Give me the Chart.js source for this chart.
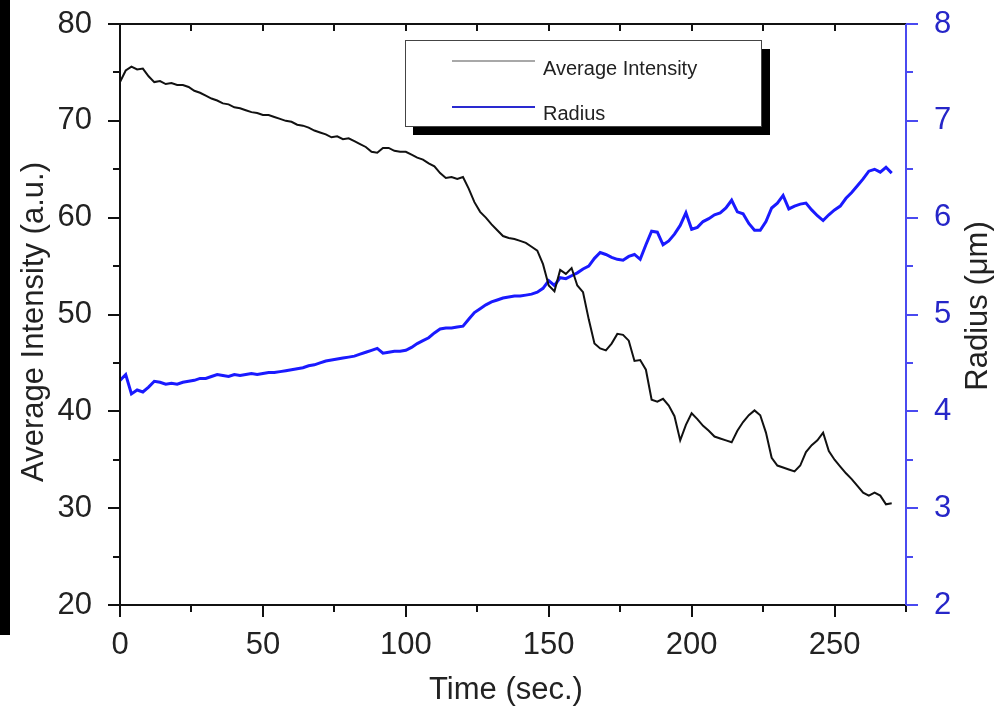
<!DOCTYPE html>
<html>
<head>
<meta charset="utf-8">
<script src="https://cdn.jsdelivr.net/npm/chart.js@4.4.0/dist/chart.umd.min.js"></script>
<style>
  html, body { margin: 0; padding: 0; background: #fff; }
  #wrap { width: 1006px; height: 713px; position: relative; }
</style>
</head>
<body>
<div id="wrap"><canvas id="myChart" width="1006" height="713"></canvas></div>
<script>
// time (sec.)
const times = [
  0, 2, 4, 6, 8, 10, 12, 14, 16, 18, 20, 22, 24, 26, 28, 30, 32, 34, 36, 38,
  40, 42, 44, 46, 48, 50, 52, 54, 56, 58, 60, 62, 64, 66, 68, 70, 72, 74, 76, 78,
  80, 82, 84, 86, 88, 90, 92, 94, 96, 98, 100, 102, 104, 106, 108, 110, 112, 114, 116, 118,
  120, 122, 124, 126, 128, 130, 132, 134, 136, 138, 140, 142, 144, 146, 148, 150, 152, 154, 156, 158,
  160, 162, 164, 166, 168, 170, 172, 174, 176, 178, 180, 182, 184, 186, 188, 190, 192, 194, 196, 198,
  200, 202, 204, 206, 208, 210, 212, 214, 216, 218, 220, 222, 224, 226, 228, 230, 232, 234, 236, 238,
  240, 242, 244, 246, 248, 250, 252, 254, 256, 258, 260, 262, 264, 266, 268, 270
];

// Average Intensity (a.u.)
const intensity = [
  74.0, 75.2, 75.6, 75.3, 75.4, 74.6, 74.0, 74.1, 73.8, 73.9, 73.7, 73.7, 73.5, 73.1, 72.9, 72.6, 72.3, 72.1, 71.8, 71.7,
  71.4, 71.3, 71.1, 70.9, 70.8, 70.6, 70.6, 70.4, 70.2, 70.0, 69.9, 69.6, 69.5, 69.3, 69.0, 68.8, 68.6, 68.3, 68.4, 68.1,
  68.2, 67.9, 67.6, 67.3, 66.8, 66.7, 67.2, 67.2, 66.9, 66.8, 66.8, 66.5, 66.2, 66.0, 65.6, 65.3, 64.6, 64.1, 64.2, 64.0,
  64.2, 63.0, 61.6, 60.6, 60.0, 59.3, 58.7, 58.1, 57.9, 57.8, 57.6, 57.4, 57.0, 56.6, 55.2, 53.0, 52.4, 54.6, 54.2, 54.8,
  53.0, 52.3, 49.5, 47.0, 46.5, 46.3, 47.0, 48.0, 47.9, 47.3, 45.2, 45.3, 44.3, 41.2, 41.0, 41.3, 40.6, 39.5, 37.0, 38.6,
  39.8, 39.2, 38.5, 38.0, 37.4, 37.2, 37.0, 36.8, 38.0, 38.9, 39.6, 40.1, 39.6, 37.8, 35.2, 34.4, 34.2, 34.0, 33.8, 34.4,
  35.8, 36.5, 37.0, 37.8, 35.9, 35.0, 34.3, 33.6, 33.0, 32.3, 31.6, 31.3, 31.6, 31.3, 30.4, 30.5
];

// Radius (um)
const radius = [
  4.32, 4.38, 4.18, 4.22, 4.20, 4.25, 4.31, 4.30, 4.28, 4.29, 4.28, 4.30, 4.31, 4.32, 4.34, 4.34, 4.36, 4.38, 4.37, 4.36,
  4.38, 4.37, 4.38, 4.39, 4.38, 4.39, 4.40, 4.40, 4.41, 4.42, 4.43, 4.44, 4.45, 4.47, 4.48, 4.50, 4.52, 4.53, 4.54, 4.55,
  4.56, 4.57, 4.59, 4.61, 4.63, 4.65, 4.60, 4.61, 4.62, 4.62, 4.63, 4.66, 4.70, 4.73, 4.76, 4.81, 4.85, 4.86, 4.86, 4.87,
  4.88, 4.95, 5.02, 5.06, 5.10, 5.13, 5.15, 5.17, 5.18, 5.19, 5.19, 5.20, 5.21, 5.23, 5.27, 5.35, 5.30, 5.38, 5.37, 5.40,
  5.43, 5.47, 5.50, 5.58, 5.64, 5.62, 5.59, 5.57, 5.56, 5.60, 5.62, 5.57, 5.72, 5.86, 5.85, 5.72, 5.76, 5.83, 5.92, 6.05,
  5.88, 5.90, 5.96, 5.99, 6.03, 6.05, 6.10, 6.18, 6.06, 6.04, 5.94, 5.87, 5.87, 5.96, 6.10, 6.15, 6.23, 6.09, 6.12, 6.14,
  6.15, 6.08, 6.02, 5.97, 6.03, 6.08, 6.12, 6.20, 6.26, 6.33, 6.40, 6.48, 6.50, 6.47, 6.52, 6.46
];

const seriesNames = ['Average Intensity', 'Radius'];
const xTickValues = [0, 50, 100, 150, 200, 250];
const xTitle = 'Time (sec.)';
const yTitle = 'Average Intensity (a.u.)';
const y1Title = 'Radius (\u03bcm)';

const FONT = '"Liberation Sans", Arial, sans-serif';
const BLUE = '#1a1aff';
const AXIS_BLUE = '#4a4af0';
const LABEL_BLUE = '#2626c8';

// ticks, frame, titles, legend
const deco = {
  id: 'deco',
  beforeDraw(chart) {
    const c = chart.ctx;
    c.save();
    c.fillStyle = '#fff';
    c.fillRect(0, 0, chart.width, chart.height);
    c.fillStyle = '#000';
    c.fillRect(0, 0, 10, 635);
    c.restore();
  },
  afterDraw(chart) {
    const c = chart.ctx;
    const a = chart.chartArea;
    const sx = chart.scales.x, sy = chart.scales.y, sy1 = chart.scales.y1;
    c.save();
    c.lineWidth = 2;

    // x ticks (bottom outward, top inward)
    c.strokeStyle = '#111';
    c.beginPath();
    for (let v = 0; v <= 275; v += 25) {
      const px = Math.round(sx.getPixelForValue(v));
      const len = v % 50 === 0 ? 12 : 7;
      c.moveTo(px, a.bottom); c.lineTo(px, a.bottom + len);
      if (v > 0) { c.moveTo(px, a.top); c.lineTo(px, a.top + 7); }
    }
    // left y ticks
    for (let v = 20; v <= 80; v += 5) {
      const py = Math.round(sy.getPixelForValue(v));
      const len = v % 10 === 0 ? 12 : 7;
      c.moveTo(a.left, py); c.lineTo(a.left - len, py);
    }
    c.stroke();

    // frame
    c.beginPath();
    c.moveTo(a.left, a.top); c.lineTo(a.right, a.top);
    c.moveTo(a.left, a.top); c.lineTo(a.left, a.bottom);
    c.moveTo(a.left, a.bottom); c.lineTo(a.right, a.bottom);
    c.stroke();

    // right axis (blue)
    c.strokeStyle = AXIS_BLUE;
    c.beginPath();
    c.moveTo(a.right, a.top); c.lineTo(a.right, a.bottom);
    for (let v = 2; v <= 8; v += 0.5) {
      const py = Math.round(sy1.getPixelForValue(v));
      const len = Number.isInteger(v) ? 12 : 7;
      c.moveTo(a.right, py); c.lineTo(a.right + len, py);
    }
    c.stroke();

    // axis titles
    c.fillStyle = '#222';
    c.font = '31px ' + FONT;
    c.textAlign = 'center';
    c.textBaseline = 'middle';
    c.fillText(xTitle, 506, 690);
    c.save();
    c.translate(34, 322);
    c.rotate(-Math.PI / 2);
    c.fillText(yTitle, 0, 0);
    c.restore();
    c.save();
    c.translate(978, 306);
    c.rotate(-Math.PI / 2);
    c.fillText(y1Title, 0, 0);
    c.restore();

    // legend box with shadow
    c.fillStyle = '#000';
    c.fillRect(413, 49, 357, 86);
    c.fillStyle = '#fff';
    c.fillRect(405, 40, 357, 87);
    c.lineWidth = 1;
    c.strokeStyle = '#444';
    c.strokeRect(405.5, 40.5, 356, 86);
    c.lineWidth = 2;
    c.strokeStyle = '#a8a8a8';
    c.beginPath(); c.moveTo(452, 61); c.lineTo(535, 61); c.stroke();
    c.strokeStyle = '#2a2ad0';
    c.beginPath(); c.moveTo(452, 107); c.lineTo(535, 107); c.stroke();
    c.fillStyle = '#222';
    c.font = '20px ' + FONT;
    c.textAlign = 'left';
    c.fillText(seriesNames[0], 543, 69);
    c.fillText(seriesNames[1], 543, 114);
    c.restore();
  }
};

function fixY(width) {
  return s => { s.width = width; s.paddingTop = 0; s.paddingBottom = 0; };
}

new Chart(document.getElementById('myChart'), {
  type: 'line',
  data: {
    datasets: [
      {
        label: seriesNames[0],
        data: times.map((t, i) => ({ x: t, y: intensity[i] })),
        borderColor: '#111',
        borderWidth: 2,
        pointRadius: 0,
        tension: 0,
        yAxisID: 'y'
      },
      {
        label: seriesNames[1],
        data: times.map((t, i) => ({ x: t, y: radius[i] })),
        borderColor: BLUE,
        borderWidth: 3,
        pointRadius: 0,
        tension: 0,
        yAxisID: 'y1'
      }
    ]
  },
  options: {
    responsive: false,
    animation: false,
    layout: { padding: { top: 24, left: 0, right: 0, bottom: 0 } },
    plugins: { legend: { display: false }, tooltip: { enabled: false } },
    scales: {
      x: {
        type: 'linear',
        min: 0, max: 275,
        grid: { display: false },
        border: { display: false },
        ticks: { padding: 14, color: '#222', font: { family: FONT, size: 31 }, maxRotation: 0 },
        afterBuildTicks: s => { s.ticks = xTickValues.map(v => ({ value: v })); },
        afterFit: s => { s.height = 108; s.paddingLeft = 0; s.paddingRight = 0; }
      },
      y: {
        position: 'left',
        min: 20, max: 80,
        grid: { display: false },
        border: { display: false },
        ticks: { stepSize: 10, padding: 20, color: '#222', font: { family: FONT, size: 31 } },
        afterFit: fixY(120)
      },
      y1: {
        position: 'right',
        min: 2, max: 8,
        grid: { display: false },
        border: { display: false },
        ticks: { stepSize: 1, padding: 20, color: LABEL_BLUE, font: { family: FONT, size: 31 } },
        afterFit: fixY(100)
      }
    }
  },
  plugins: [deco]
});
</script>
</body>
</html>
